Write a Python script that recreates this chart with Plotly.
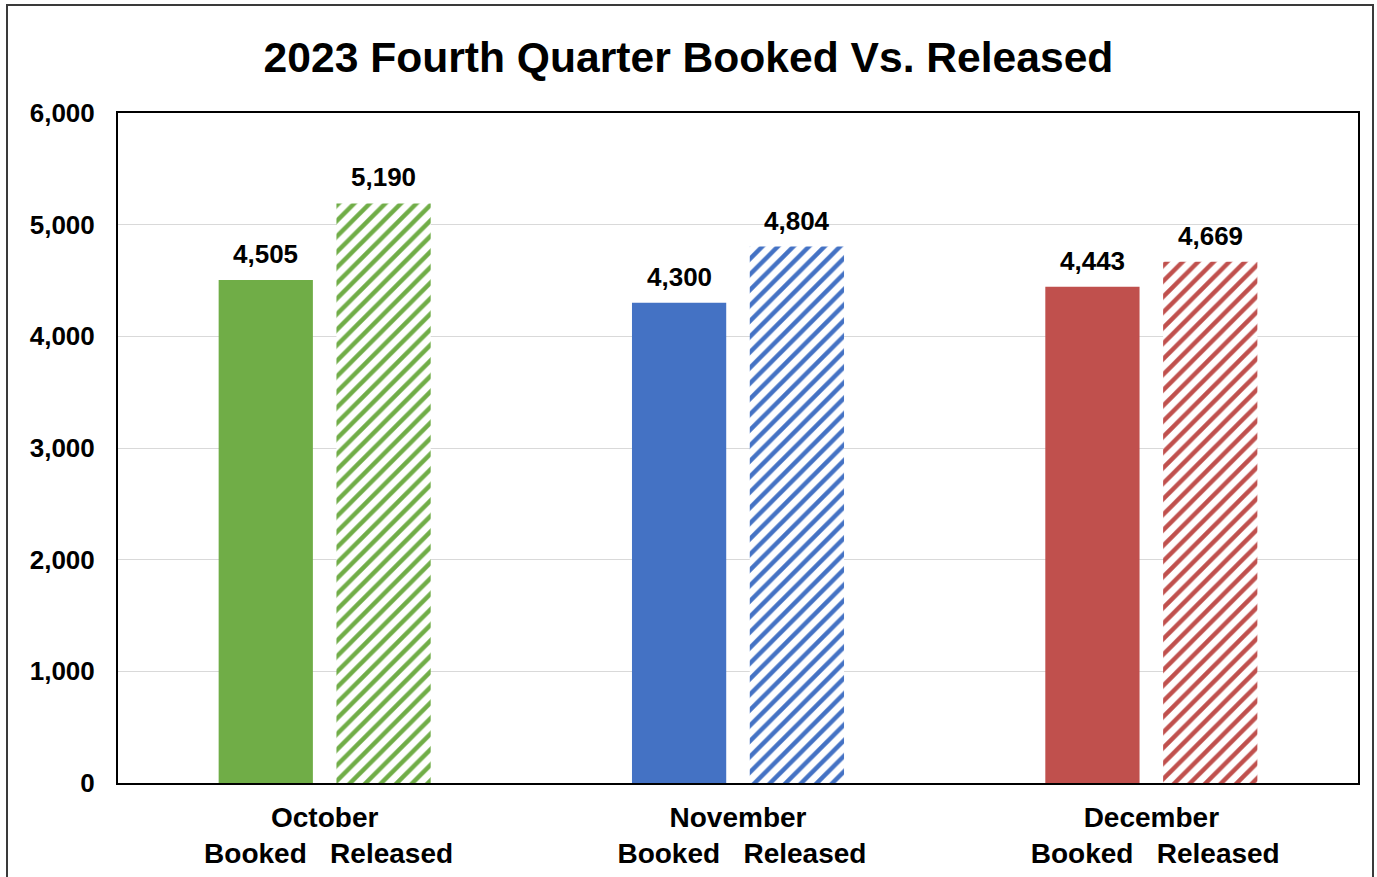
import plotly.graph_objects as go

months = ["October", "November", "December"]
booked = [4505, 4300, 4443]
released = [5190, 4804, 4669]
colors = ["#70AD47", "#4472C4", "#C0504D"]
y_ticks = [0, 1000, 2000, 3000, 4000, 5000, 6000]

FONT = "Arial, 'Liberation Sans', sans-serif"
NB = "\u00a0"
ticktext = [f"{m}<br>{NB}Booked{NB*3}Released" for m in months]

W, H = 1377, 877
L, R, T, B = 118, 19, 113, 94
pw, ph = W - L - R, H - T - B
BARGAP = 0.43
BARGROUPGAP = 0.2
slot_px = pw / len(months) * (1 - BARGAP) / 2

fig = go.Figure()
fig.add_trace(go.Bar(
    x=months, y=booked, name="Booked",
    marker=dict(color=colors, line=dict(width=0)),
))
fig.add_trace(go.Bar(
    x=months, y=released, name="Released",
    marker=dict(color="white", line=dict(width=0),
                pattern=dict(shape="/", fgcolor=colors, bgcolor="white",
                             size=11, solidity=0.4, fillmode="replace")),
))

annotations = []
for vals, sign in ((booked, -1), (released, 1)):
    for m, v in zip(months, vals):
        annotations.append(dict(
            x=m, y=v, xref="x", yref="y", text=f"<b>{v:,}</b>",
            showarrow=False, xanchor="center", yanchor="middle",
            xshift=sign * slot_px / 2, yshift=26,
            font=dict(family=FONT, size=26, color="black"),
        ))

fig.update_layout(
    width=W, height=H,
    margin=dict(l=L, r=R, t=T, b=B, autoexpand=False),
    paper_bgcolor="white", plot_bgcolor="white",
    showlegend=False,
    barmode="group", bargap=BARGAP, bargroupgap=BARGROUPGAP,
    title=dict(text="<b>2023 Fourth Quarter Booked Vs. Released</b>",
               x=0.5, xanchor="center", y=1 - 57 / H, yanchor="middle",
               font=dict(family=FONT, size=42.6, color="black")),
    font=dict(family=FONT, color="black"),
    xaxis=dict(
        tickvals=months, ticktext=ticktext,
        tickfont=dict(family=FONT, size=28, color="black", weight="bold"),
        showline=True, linecolor="black", linewidth=2, mirror=True,
        ticks="", showgrid=False, ticklabelstandoff=8, automargin=False,
    ),
    yaxis=dict(
        range=[0, 6000], tickvals=y_ticks, tickformat=",",
        tickfont=dict(family=FONT, size=26, color="black", weight="bold"),
        showline=True, linecolor="black", linewidth=2, mirror=True,
        showgrid=True, gridcolor="#D9D9D9", gridwidth=1,
        ticks="", ticklabelstandoff=16, zeroline=False, automargin=False,
    ),
    annotations=annotations,
    shapes=[dict(
        type="rect", xref="paper", yref="paper",
        x0=(7 - L) / pw, x1=(1373 - L) / pw,
        y0=(T + ph - 890) / ph, y1=(T + ph - 5) / ph,
        line=dict(color="#3a3a3a", width=2), fillcolor="rgba(0,0,0,0)",
        layer="below",
    )],
)

fig.write_html("out.html", config={"displayModeBar": False},
               post_script="document.body.style.margin='0';document.body.style.overflow='hidden';")
